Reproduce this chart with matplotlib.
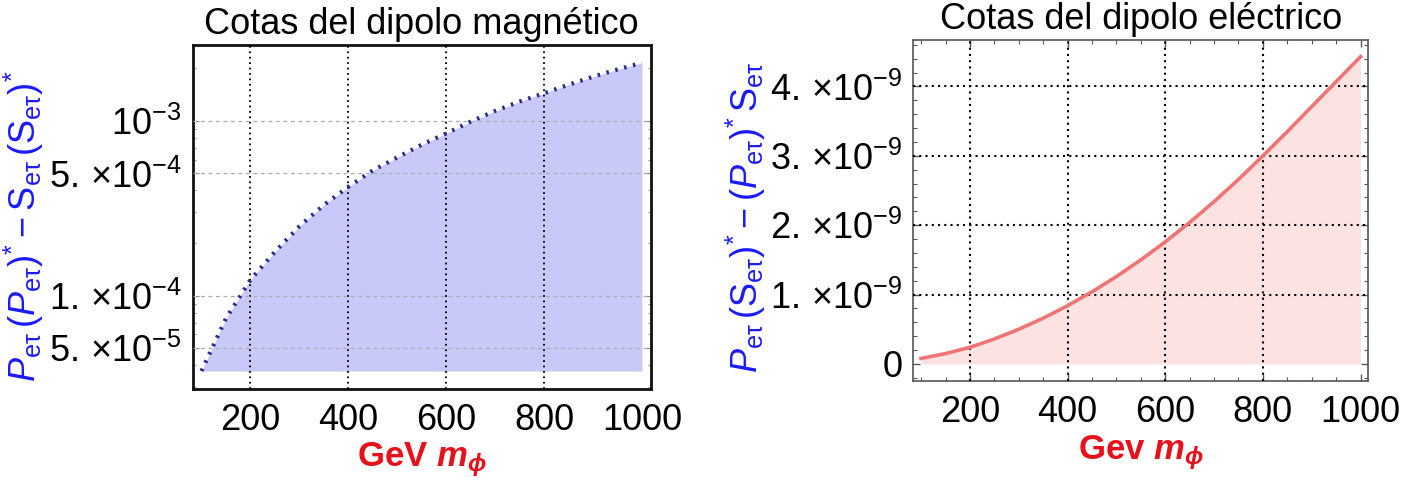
import numpy as np
import matplotlib
matplotlib.use("Agg")
import matplotlib.pyplot as plt
from matplotlib.ticker import FixedLocator, NullFormatter

plt.rcParams['font.family'] = ['Liberation Sans', 'DejaVu Sans']
plt.rcParams['mathtext.fontset'] = 'custom'
plt.rcParams['mathtext.rm'] = 'Liberation Sans'
plt.rcParams['mathtext.it'] = 'Liberation Sans:italic'
plt.rcParams['mathtext.bf'] = 'Liberation Sans:bold'
plt.rcParams['mathtext.bfit'] = 'Liberation Sans:italic:bold'

# masa del escalar (GeV)
m_phi = [100, 150, 200, 250, 300, 350, 400, 450, 500, 550, 600, 650, 700,
         750, 800, 850, 900, 950, 1000]

# cota dipolo magnetico (escala log)
cota_mag = [3.7e-5, 7.4e-5, 1.23e-4, 1.78e-4, 2.49e-4, 3.3e-4, 4.19e-4,
            5.2e-4, 6.18e-4, 7.3e-4, 8.47e-4, 9.9e-4, 1.14e-3, 1.29e-3,
            1.44e-3, 1.61e-3, 1.79e-3, 1.97e-3, 2.15e-3]

# cota dipolo electrico
cota_ele = [0.08e-9, 0.15e-9, 0.24e-9, 0.36e-9, 0.50e-9, 0.66e-9, 0.84e-9,
            1.04e-9, 1.26e-9, 1.50e-9, 1.76e-9, 2.04e-9, 2.34e-9, 2.66e-9,
            3.0e-9, 3.35e-9, 3.71e-9, 4.07e-9, 4.43e-9]

x_ticks = [200, 400, 600, 800, 1000]
x_labels = ['200', '400', '600', '800', '1000']
mag_yticks = [5e-5, 1e-4, 5e-4, 1e-3]
mag_ylabels = [r'$5.\,{\times}10^{-5}$', r'$1.\,{\times}10^{-4}$', r'$5.\,{\times}10^{-4}$', r'$10^{-3}$']
ele_yticks = [0, 1e-9, 2e-9, 3e-9, 4e-9]
ele_ylabels = ['0', r'$1.\,{\times}10^{-9}$', r'$2.\,{\times}10^{-9}$', r'$3.\,{\times}10^{-9}$', r'$4.\,{\times}10^{-9}$']

fig = plt.figure(figsize=(14.27, 4.91), dpi=100)

# ---- dipolo magnetico ----
ax1 = fig.add_axes([0.135, 0.2083, 0.321, 0.7001])
ax1.set_yscale('log')
ax1.fill_between(m_phi, min(cota_mag), cota_mag, color='#c9c9f9', lw=0, zorder=1)
ax1.plot(m_phi, cota_mag, color='#2a2a92', lw=3.0, linestyle=(0, (0.6, 1.6)),
         dash_capstyle='butt', zorder=4)
for xv in x_ticks[:-1]:
    ax1.axvline(xv, color='black', lw=1.3, linestyle=(0, (1, 2)), zorder=3)
for yv in mag_yticks:
    ax1.axhline(yv, color='#aaaaaa', lw=0.9, linestyle=(0, (3, 3)), zorder=3)
ax1.set_xlim(82, 1018)
ax1.set_ylim(2.93e-5, 2.72e-3)
ax1.set_xticks(x_ticks)
ax1.set_xticklabels(x_labels)
ax1.yaxis.set_major_locator(FixedLocator(mag_yticks))
ax1.set_yticklabels(mag_ylabels)
minor_mag = [3e-5, 4e-5, 6e-5, 7e-5, 8e-5, 9e-5, 2e-4, 3e-4, 4e-4, 6e-4,
             7e-4, 8e-4, 9e-4, 2e-3]
ax1.yaxis.set_minor_locator(FixedLocator(minor_mag))
ax1.yaxis.set_minor_formatter(NullFormatter())
ax1.tick_params(axis='both', which='both', direction='in', labelsize=26,
                color='#888888', right=True)
ax1.tick_params(axis='x', length=0, pad=10)
ax1.tick_params(axis='y', which='major', length=4, pad=8)
ax1.tick_params(axis='y', which='minor', length=2)
for s in ax1.spines.values():
    s.set_linewidth(2)
    s.set_color('#111111')
ax1.set_title('Cotas del dipolo magnético', fontsize=26, pad=8)
ax1.set_xlabel(r'GeV $\mathbfit{m}_{\mathbfit{\phi}}$', fontsize=25,
               color='#e8101a', fontweight='bold', labelpad=2)
ax1.set_ylabel(r'$P_{\mathrm{e\tau}}\,(P_{\mathrm{e\tau}})^{*}-\mathrm{S}_{\mathrm{e\tau}}\,(\mathrm{S}_{\mathrm{e\tau}})^{*}$',
               fontsize=26, color='#1a1aff')
ax1.yaxis.set_label_coords(-0.32, 0.473)

# ---- dipolo electrico ----
ax2 = fig.add_axes([0.640, 0.2234, 0.3189, 0.6951])
ax2.fill_between(m_phi, 0, cota_ele, color='#fde2e2', lw=0, zorder=1)
ax2.plot(m_phi, cota_ele, color='#f07474', lw=2.6, zorder=4)
for xv in x_ticks[:-1]:
    ax2.axvline(xv, color='black', lw=1.5, linestyle=(0, (1, 2)), zorder=3)
for yv in ele_yticks[1:]:
    ax2.axhline(yv, color='black', lw=1.5, linestyle=(0, (1, 2)), zorder=3)
ax2.set_xlim(84, 1016)
ax2.set_ylim(-0.25e-9, 4.67e-9)
ax2.set_xticks(x_ticks)
ax2.set_xticklabels(x_labels)
ax2.xaxis.set_minor_locator(FixedLocator(np.arange(100, 1001, 50)))
ax2.yaxis.set_major_locator(FixedLocator(ele_yticks))
ax2.set_yticklabels(ele_ylabels)
ax2.yaxis.set_minor_locator(FixedLocator(np.arange(-0.2e-9, 4.61e-9, 0.2e-9)))
ax2.tick_params(axis='both', which='both', direction='in', labelsize=26,
                color='#555555', top=True, right=True)
ax2.tick_params(axis='both', which='major', length=5, width=1)
ax2.tick_params(axis='both', which='minor', length=3, width=0.8)
ax2.tick_params(axis='x', pad=10)
ax2.tick_params(axis='y', pad=8)
for s in ax2.spines.values():
    s.set_linewidth(1.2)
    s.set_color('#555555')
ax2.set_title('Cotas del dipolo eléctrico', fontsize=26, pad=8)
ax2.set_xlabel(r'Gev $\mathbfit{m}_{\mathbfit{\phi}}$', fontsize=25,
               color='#e8101a', fontweight='bold', labelpad=2)
ax2.set_ylabel(r'$P_{\mathrm{e\tau}}\,(\mathrm{S}_{\mathrm{e\tau}})^{*}-(P_{\mathrm{e\tau}})^{*}\,\mathrm{S}_{\mathrm{e\tau}}$',
               fontsize=26, color='#1a1aff')
ax2.yaxis.set_label_coords(-0.32, 0.48)

fig.savefig('out.png', dpi=100)
